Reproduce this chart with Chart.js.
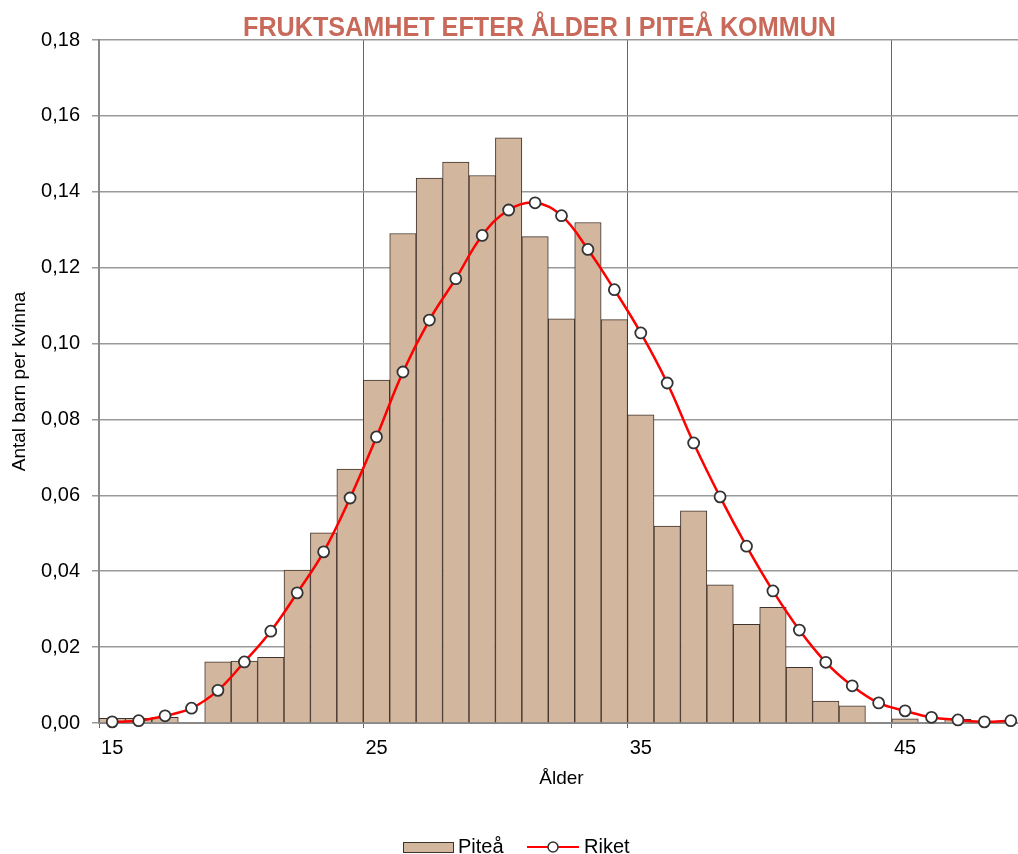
<!DOCTYPE html>
<html>
<head>
<meta charset="utf-8">
<script src="https://cdn.jsdelivr.net/npm/chart.js@4/dist/chart.umd.min.js"></script>
<style>
  html, body { margin: 0; padding: 0; background: #fff; overflow: hidden; }
  #wrap { width: 1034px; height: 854px; }
</style>
</head>
<body>
<div id="wrap"><canvas id="fertility-chart" width="1034" height="854"></canvas></div>
<script>
const chartTitle = 'FRUKTSAMHET EFTER ÅLDER I PITEÅ KOMMUN';

const ages = ['15', '16', '17', '18', '19', '20', '21', '22', '23', '24',
              '25', '26', '27', '28', '29', '30', '31', '32', '33', '34',
              '35', '36', '37', '38', '39', '40', '41', '42', '43', '44',
              '45', '46', '47', '48', '49'];

const pitea = [0.0012, 0.0012, 0.0015, 0, 0.0161, 0.0163, 0.0173, 0.0403, 0.0501, 0.0669,
               0.0904, 0.1290, 0.1436, 0.1478, 0.1443, 0.1542, 0.1282, 0.1065, 0.1319, 0.1063,
               0.0812, 0.0519, 0.0559, 0.0364, 0.0260, 0.0305, 0.0147, 0.0058, 0.0045, 0,
               0.0011, 0, 0.0010, 0, 0];

const riket = [0.0003, 0.0006, 0.0019, 0.0039, 0.0086, 0.0161, 0.0242, 0.0343, 0.0451, 0.0593,
               0.0754, 0.0925, 0.1062, 0.1171, 0.1285, 0.1352, 0.1371, 0.1337, 0.1248, 0.1142,
               0.1028, 0.0896, 0.0738, 0.0596, 0.0466, 0.0348, 0.0245, 0.0160, 0.0098, 0.0053,
               0.0032, 0.0015, 0.0008, 0.0003, 0.0006];

const yMin = 0;
const yMax = 0.18;
const yStep = 0.02;

const barFill = '#D3B69E';
const barEdge = '#3e322a';
const lineRed = '#FF0000';
const fontFamily = '"Liberation Sans", Arial, sans-serif';

// title: condensed look, squeezed to the width of the original
const titlePlugin = {
    id: 'fruktTitle',
    afterDraw(chart) {
        const ctx = chart.ctx;
        ctx.save();
        ctx.font = 'bold 27px ' + fontFamily;
        ctx.fillStyle = '#C8695A';
        ctx.textAlign = 'center';
        ctx.textBaseline = 'alphabetic';
        const w = ctx.measureText(chartTitle).width;
        const sx = 593 / w;
        ctx.translate(539.5, 36);
        ctx.scale(sx, 1);
        ctx.fillText(chartTitle, 0, 0);
        ctx.restore();
    }
};

// legend with a box for the bars and a line+marker for Riket
const legendPlugin = {
    id: 'fruktLegend',
    afterDraw(chart) {
        const ctx = chart.ctx;
        const y = 847;
        ctx.save();
        ctx.font = '20px ' + fontFamily;
        ctx.textBaseline = 'middle';

        ctx.fillStyle = barFill;
        ctx.fillRect(403, 842, 50, 10);
        ctx.strokeStyle = barEdge;
        ctx.lineWidth = 1;
        ctx.strokeRect(403.5, 842.5, 50, 10);
        ctx.fillStyle = '#000';
        ctx.fillText(chart.data.datasets[0].label, 458, y);

        ctx.strokeStyle = lineRed;
        ctx.lineWidth = 2;
        ctx.beginPath();
        ctx.moveTo(527, y);
        ctx.lineTo(579, y);
        ctx.stroke();
        ctx.beginPath();
        ctx.arc(553, y, 5, 0, Math.PI * 2);
        ctx.fillStyle = '#fff';
        ctx.fill();
        ctx.strokeStyle = '#333';
        ctx.lineWidth = 1.5;
        ctx.stroke();
        ctx.fillStyle = '#000';
        ctx.fillText(chart.data.datasets[1].label, 584, y);
        ctx.restore();
    }
};

const fertilityChart = new Chart(document.getElementById('fertility-chart'), {
    type: 'bar',
    data: {
        labels: ages,
        datasets: [{
            label: 'Piteå',
            data: pitea,
            backgroundColor: barFill,
            borderColor: barEdge,
            borderWidth: 1,
            barPercentage: 1,
            categoryPercentage: 1,
            order: 2
        }, {
            type: 'line',
            label: 'Riket',
            data: riket,
            borderColor: lineRed,
            borderWidth: 2.5,
            tension: 0.4,
            pointRadius: 5.5,
            pointBackgroundColor: '#fff',
            pointBorderColor: '#333',
            pointBorderWidth: 1.8,
            clip: false,
            order: 1
        }]
    },
    options: {
        responsive: false,
        animation: false,
        layout: { padding: { top: 40, left: 0, right: 10, bottom: 61 } },
        plugins: {
            legend: { display: false },
            tooltip: { enabled: false },
            title: { display: false }
        },
        scales: {
            x: {
                afterFit(scale) { scale.height = 70; },
                grid: {
                    offset: true,
                    color: ctx => (ctx.index % 10 === 0 ? '#666' : 'rgba(0,0,0,0)'),
                    lineWidth: 1,
                    tickLength: 5
                },
                border: { color: '#888', width: 2 },
                ticks: {
                    autoSkip: false,
                    maxRotation: 0,
                    padding: 8,
                    color: '#000',
                    font: { family: fontFamily, size: 20 },
                    callback(value, index) {
                        return index % 10 === 0 ? this.getLabelForValue(value) : '';
                    }
                },
                title: {
                    display: true,
                    text: 'Ålder',
                    color: '#000',
                    font: { family: fontFamily, size: 19 },
                    padding: 3
                }
            },
            y: {
                min: yMin,
                max: yMax,
                afterFit(scale) { scale.width = 99; },
                grid: { color: '#999', lineWidth: 1.5, tickLength: 7 },
                border: { color: '#888', width: 2 },
                ticks: {
                    stepSize: yStep,
                    padding: 12,
                    color: '#000',
                    font: { family: fontFamily, size: 20 },
                    callback: v => v.toFixed(2).replace('.', ',')
                },
                title: {
                    display: true,
                    text: 'Antal barn per kvinna',
                    color: '#000',
                    font: { family: fontFamily, size: 19 },
                    padding: 8
                }
            }
        }
    },
    plugins: [titlePlugin, legendPlugin]
});
</script>
</body>
</html>
